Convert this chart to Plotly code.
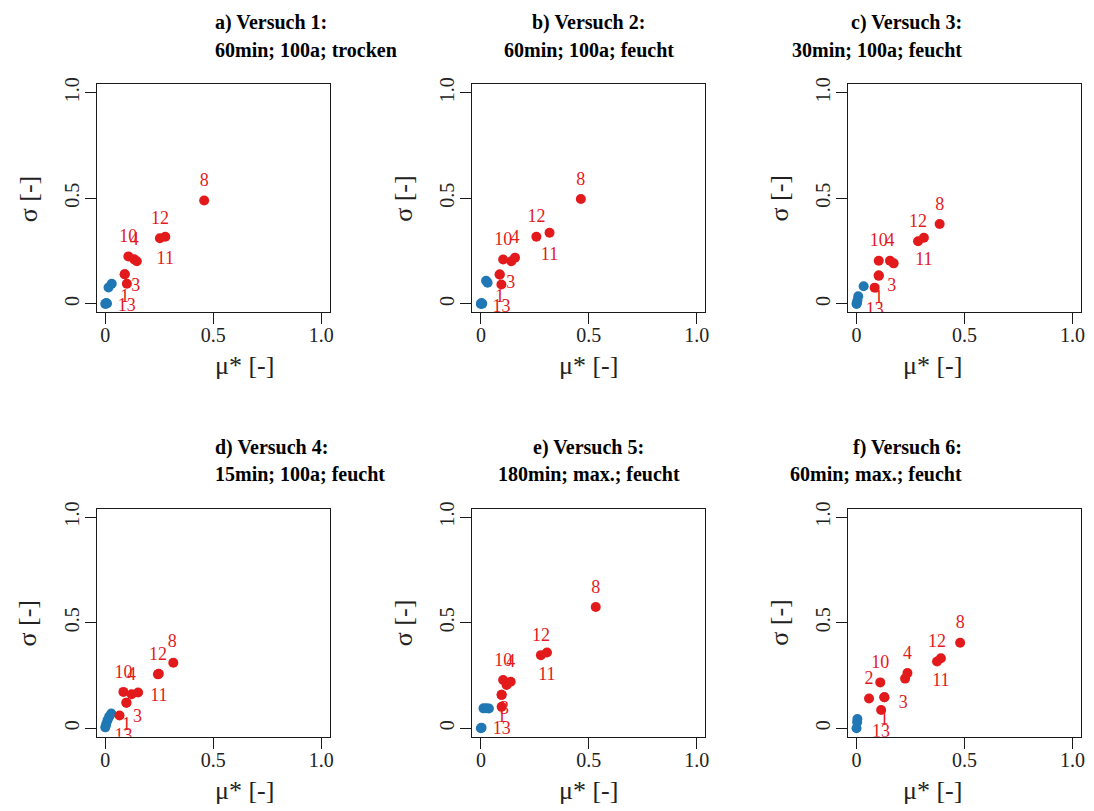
import plotly.graph_objects as go

W, H = 1094, 811

TITLES_1 = ["a) Versuch 1:", "b) Versuch 2:", "c) Versuch 3:",
            "d) Versuch 4:", "e) Versuch 5:", "f) Versuch 6:"]
TITLES_2 = ["60min; 100a; trocken", "60min; 100a; feucht", "30min; 100a; feucht",
            "15min; 100a; feucht", "180min; max.; feucht", "60min; max.; feucht"]

TICK_VALUES = [0, 0.5, 1.0]
TICK_LABELS = ["0", "0.5", "1.0"]
X_TITLE = "μ* [-]"
Y_TITLE = "σ [-]"

# Versuch 1
mu_blue_1 = [0.000, 0.004, 0.008, 0.015, 0.030]
sigma_blue_1 = [0.000, 0.004, 0.002, 0.078, 0.095]
mu_red_1 = [0.458, 0.253, 0.278, 0.107, 0.134, 0.146, 0.090, 0.090, 0.100]
sigma_red_1 = [0.490, 0.311, 0.318, 0.225, 0.211, 0.202, 0.140, 0.140, 0.095]
labels_1 = ["8", "12", "11", "10", "4", "", "1", "3", "13"]

# Versuch 2
mu_blue_2 = [0.000, 0.003, 0.006, 0.024, 0.031]
sigma_blue_2 = [0.000, 0.004, 0.001, 0.110, 0.100]
mu_red_2 = [0.463, 0.257, 0.318, 0.103, 0.141, 0.158, 0.087, 0.087, 0.095]
sigma_red_2 = [0.497, 0.318, 0.337, 0.210, 0.202, 0.219, 0.139, 0.139, 0.092]
labels_2 = ["8", "12", "11", "10", "", "4", "1", "3", "13"]

# Versuch 3
mu_blue_3 = [0.000, 0.002, 0.004, 0.008, 0.033]
sigma_blue_3 = [0.000, 0.004, 0.016, 0.036, 0.084]
mu_red_3 = [0.385, 0.285, 0.312, 0.103, 0.155, 0.172, 0.103, 0.103, 0.084]
sigma_red_3 = [0.378, 0.297, 0.313, 0.204, 0.204, 0.192, 0.134, 0.134, 0.077]
labels_3 = ["8", "12", "11", "10", "4", "", "1", "3", "13"]

# Versuch 4
mu_blue_4 = [0.000, 0.004, 0.010, 0.018, 0.028]
sigma_blue_4 = [0.004, 0.018, 0.037, 0.055, 0.070]
mu_red_4 = [0.315, 0.244, 0.248, 0.084, 0.122, 0.152, 0.098, 0.098, 0.066]
sigma_red_4 = [0.310, 0.255, 0.258, 0.172, 0.161, 0.169, 0.121, 0.121, 0.060]
labels_4 = ["8", "12", "11", "10", "4", "", "1", "3", "13"]

# Versuch 5
mu_blue_5 = [0.000, 0.003, 0.012, 0.025, 0.037]
sigma_blue_5 = [0.000, 0.002, 0.094, 0.095, 0.093]
mu_red_5 = [0.532, 0.278, 0.306, 0.103, 0.119, 0.138, 0.096, 0.096, 0.096]
sigma_red_5 = [0.574, 0.346, 0.359, 0.228, 0.205, 0.220, 0.158, 0.158, 0.102]
labels_5 = ["8", "12", "11", "10", "", "4", "1", "3", "13"]

# Versuch 6
mu_blue_6 = [0.000, 0.003, 0.004]
sigma_blue_6 = [0.000, 0.028, 0.043]
mu_red_6 = [0.480, 0.373, 0.391, 0.236, 0.225, 0.110, 0.058, 0.129, 0.129, 0.114]
sigma_red_6 = [0.405, 0.316, 0.331, 0.261, 0.235, 0.217, 0.141, 0.147, 0.147, 0.086]
labels_6 = ["8", "12", "11", "4", "", "10", "2", "1", "3", "13"]

# label placement in screen pixels (dx right, dy down) relative to its point
T, B, N = (0, -19), (0, 23), (0, 0)
offsets_1 = [T, T, B, T, T, N, B, (11, 12), B]
offsets_2 = [T, T, B, T, N, T, B, (11, 9), B]
offsets_3 = [T, T, B, T, T, N, B, (13, 11), B]
offsets_4 = [(-1, -20), T, B, T, T, N, B, (11, 15), (4, 21)]
offsets_5 = [T, T, B, T, N, T, B, (3, 15), B]
offsets_6 = [T, T, B, T, N, T, T, B, (19, 6), B]

panels = [
    (mu_blue_1, sigma_blue_1, mu_red_1, sigma_red_1, labels_1, offsets_1),
    (mu_blue_2, sigma_blue_2, mu_red_2, sigma_red_2, labels_2, offsets_2),
    (mu_blue_3, sigma_blue_3, mu_red_3, sigma_red_3, labels_3, offsets_3),
    (mu_blue_4, sigma_blue_4, mu_red_4, sigma_red_4, labels_4, offsets_4),
    (mu_blue_5, sigma_blue_5, mu_red_5, sigma_red_5, labels_5, offsets_5),
    (mu_blue_6, sigma_blue_6, mu_red_6, sigma_red_6, labels_6, offsets_6),
]

RED = "#E31A1C"
BLUE = "#1F78B4"
LINE = "#1a1a1a"
SERIF = "Liberation Serif"

COL_LEFT = [97, 474, 851]
ROW_TOP = [78, 506]
BOX_W, BOX_H = 234, 230
AX_RANGE = [-0.04, 1.04]
SPAN = AX_RANGE[1] - AX_RANGE[0]
SX = BOX_W / SPAN   # px per data unit, horizontal
SY = BOX_H / SPAN   # px per data unit, vertical

fig = go.Figure()
annotations = []

for k, (mb, sb, mr, sr, labs, offs) in enumerate(panels):
    r, c = divmod(k, 3)
    left, top = COL_LEFT[c], ROW_TOP[r]
    xa = "x" if k == 0 else f"x{k + 1}"
    ya = "y" if k == 0 else f"y{k + 1}"
    xkey = "xaxis" if k == 0 else f"xaxis{k + 1}"
    ykey = "yaxis" if k == 0 else f"yaxis{k + 1}"

    axis_common = dict(
        range=AX_RANGE, tickvals=TICK_VALUES, ticktext=TICK_LABELS,
        ticks="outside", ticklen=11, tickwidth=1, tickcolor=LINE,
        showline=True, mirror=True, linecolor=LINE, linewidth=1,
        showgrid=False, zeroline=False, fixedrange=True,
        tickfont=dict(family=SERIF, size=20, color="#222222"),
    )
    fig.update_layout({
        xkey: dict(axis_common, domain=[left / W, (left + BOX_W) / W],
                   anchor=ya, ticklabelstandoff=-6),
        ykey: dict(axis_common, domain=[1 - (top + BOX_H) / H, 1 - top / H],
                   anchor=xa, tickangle=-90, ticklabelstandoff=-2),
    })

    fig.add_trace(go.Scatter(
        x=mb, y=sb, mode="markers", xaxis=xa, yaxis=ya, showlegend=False,
        marker=dict(color=BLUE, size=10, line=dict(width=0)),
    ))
    fig.add_trace(go.Scatter(
        x=mr, y=sr, mode="markers", xaxis=xa, yaxis=ya, showlegend=False,
        marker=dict(color=RED, size=10, line=dict(width=0)),
    ))

    # point labels, shifted by a pixel offset and clipped to the plot box
    lx, ly, lt = [], [], []
    for m, s, t, (dx, dy) in zip(mr, sr, labs, offs):
        if not t:
            continue
        lx.append(m + dx / SX)
        ly.append(s - dy / SY)
        lt.append(t)
    fig.add_trace(go.Scatter(
        x=lx, y=ly, text=lt, mode="text", xaxis=xa, yaxis=ya, showlegend=False,
        textposition="middle center", cliponaxis=True,
        textfont=dict(family=SERIF, size=18, color=RED),
    ))

    cx = (left + BOX_W / 2) / W
    annotations += [
        dict(text=f"<b>{TITLES_1[k]}</b>", x=cx, y=1 - (top - 62) / H,
             xref="paper", yref="paper", showarrow=False, yanchor="middle",
             font=dict(family=SERIF, size=20, color="#000000")),
        dict(text=f"<b>{TITLES_2[k]}</b>", x=cx, y=1 - (top - 35) / H,
             xref="paper", yref="paper", showarrow=False, yanchor="middle",
             font=dict(family=SERIF, size=20, color="#000000")),
        dict(text=X_TITLE, x=cx, y=1 - (top + BOX_H + 54) / H,
             xref="paper", yref="paper", showarrow=False, yanchor="middle",
             font=dict(family=SERIF, size=26, color="#222222")),
        dict(text=Y_TITLE, x=(left - 69) / W, y=1 - (top + BOX_H / 2) / H,
             xref="paper", yref="paper", showarrow=False, textangle=-90,
             xanchor="center", yanchor="middle",
             font=dict(family=SERIF, size=26, color="#222222")),
    ]

fig.update_layout(
    width=W, height=H, margin=dict(l=0, r=0, t=0, b=0),
    paper_bgcolor="white", plot_bgcolor="white",
    annotations=annotations,
)

fig.write_html("out.html")
